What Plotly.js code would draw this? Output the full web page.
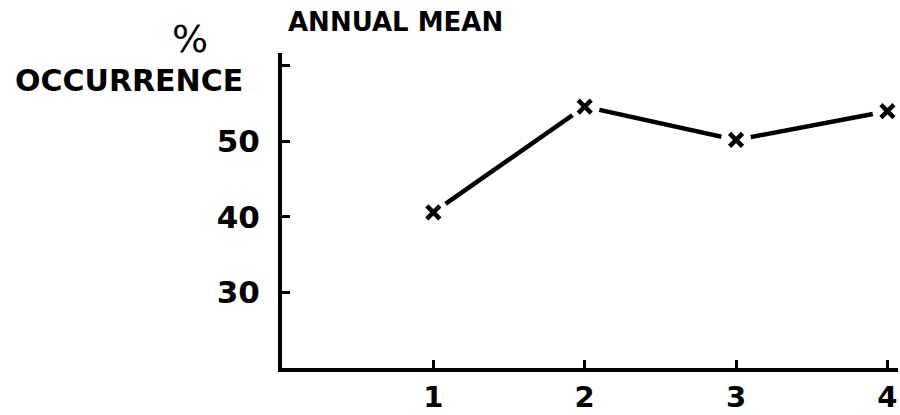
<!DOCTYPE html>
<html>
<head>
<meta charset="utf-8">
<script src="https://cdn.plot.ly/plotly-3.0.1.min.js"></script>
<style>html,body{margin:0;padding:0;background:#fff;}#chart{width:900px;height:415px;}</style>
</head>
<body>
<div id="chart"></div>
<script>
var categories = [1, 2, 3, 4];
var occurrence = [40.6, 54.6, 50.2, 54.0];
var yTickVals = [30, 40, 50, 60];
var yTickText = ['30', '40', '50', ''];
var xTickVals = [1, 2, 3, 4];
var xTickText = ['1', '2', '3', '4'];

var FONT = 'DejaVu Sans, Arial, sans-serif';

var traces = [
  {
    x: categories, y: occurrence, type: 'scatter', mode: 'lines+markers',
    line: {color: '#000', width: 4.5},
    marker: {symbol: 'circle', size: 30, color: '#fff', line: {width: 0}},
    hoverinfo: 'skip', showlegend: false
  },
  {
    x: categories, y: occurrence, type: 'scatter', mode: 'markers',
    marker: {symbol: 'x-thin', size: 13, color: '#000', line: {color: '#000', width: 4.5}},
    showlegend: false
  }
];

var layout = {
  width: 900, height: 415,
  margin: {l: 282, r: 2, t: 53, b: 47},
  paper_bgcolor: '#fff', plot_bgcolor: '#fff',
  font: {family: FONT, color: '#000', weight: 'bold'},
  title: {
    text: 'ANNUAL MEAN',
    font: {family: FONT, size: 26, color: '#000', weight: 'bold'},
    x: 288 / 900, xanchor: 'left', xref: 'container',
    y: 1 - 22 / 415, yanchor: 'middle', yref: 'container'
  },
  xaxis: {
    range: [0, 4.07],
    tickvals: xTickVals, ticktext: xTickText,
    ticks: 'inside', ticklen: 8, tickwidth: 3, tickcolor: '#000',
    showline: true, linecolor: '#000', linewidth: 4,
    showgrid: false, zeroline: false,
    tickfont: {family: FONT, size: 29, color: '#000', weight: 'bold'}
  },
  yaxis: {
    range: [20, 61.7],
    tickvals: yTickVals, ticktext: yTickText,
    ticks: 'inside', ticklen: 8, tickwidth: 3, tickcolor: '#000',
    showline: true, linecolor: '#000', linewidth: 4,
    showgrid: false, zeroline: false,
    ticklabelstandoff: 12,
    tickfont: {family: FONT, size: 31, color: '#000', weight: 'bold'}
  },
  annotations: [
    {text: '%', xref: 'paper', yref: 'paper', x: -0.149, y: 1.045, xanchor: 'center', yanchor: 'middle',
     showarrow: false, font: {family: FONT, size: 38, color: '#000', weight: 'normal'}},
    {text: 'OCCURRENCE', xref: 'paper', yref: 'paper', x: -0.06, y: 0.914, xanchor: 'right', yanchor: 'middle',
     showarrow: false, font: {family: FONT, size: 30, color: '#000', weight: 'bold'}}
  ]
};

Plotly.newPlot('chart', traces, layout, {displayModeBar: false, staticPlot: true});
</script>
</body>
</html>
